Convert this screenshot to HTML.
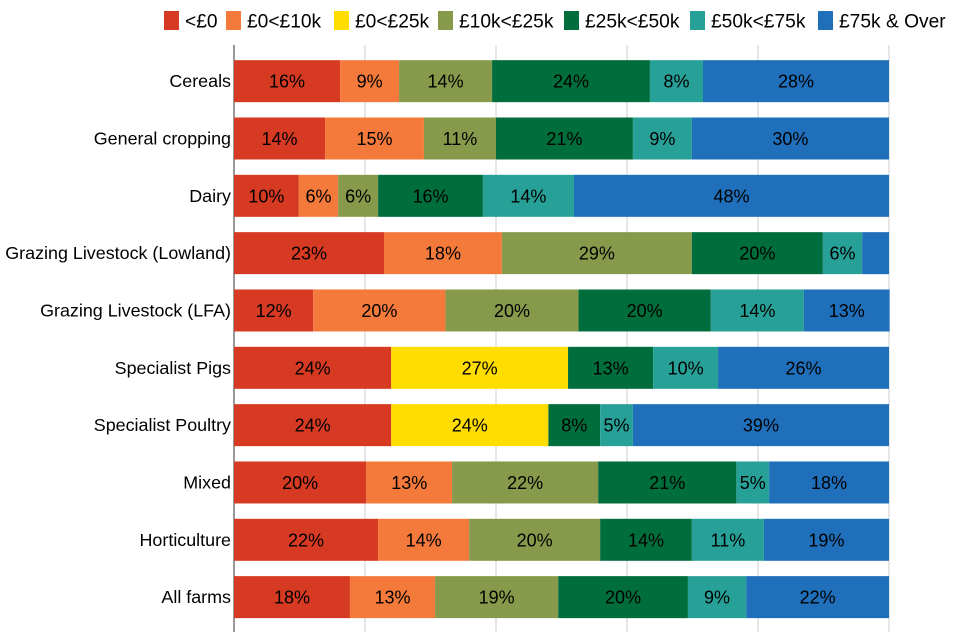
<!DOCTYPE html>
<html><head><meta charset="utf-8"><style>
body{margin:0;background:#fff;font-family:"Liberation Sans",sans-serif}
svg{display:block}
</style></head><body>
<svg id="chart" width="960" height="640"></svg>
<script>
const categories=["Cereals","General cropping","Dairy","Grazing Livestock (Lowland)","Grazing Livestock (LFA)","Specialist Pigs","Specialist Poultry","Mixed","Horticulture","All farms"];
const seriesNames=["<£0","£0<£10k","£0<£25k","£10k<£25k","£25k<£50k","£50k<£75k","£75k & Over"];
const colors=["#d63a22","#f47a3c","#ffdd00","#87994b","#006d3c","#27a197","#1f6fbb"];
const sLt0=[16.2,13.9,9.9,22.9,12.1,24.0,24.0,20.2,22.0,17.7];
const s0to10=[9.0,15.1,6.0,18.0,20.2,0,0,13.1,13.9,13.0];
const s0to25=[0,0,0,0,0,27.0,24.0,0,0,0];
const s10to25=[14.2,11.0,6.1,29.0,20.3,0,0,22.3,20.0,18.8];
const s25to50=[24.1,20.9,16.0,20.0,20.2,13.0,7.9,21.1,14.0,19.8];
const s50to75=[8.1,9.0,13.9,6.0,14.2,9.9,5.0,5.0,11.0,8.9];
const s75over=[28.4,30.1,48.1,4.1,13.1,26.1,39.1,18.3,19.1,21.8];
const series=[sLt0,s0to10,s0to25,s10to25,s25to50,s50to75,s75over];
const ticks=[0,20,40,60,80,100];

const NS="http://www.w3.org/2000/svg";
const svg=document.getElementById('chart');
const x0=234,x1=889,yTop=52.5,step=57.33,barH=42;
const xs=v=>x0+(x1-x0)*v/100;
const yc=i=>yTop+step*i+step/2;
function mk(t,a){const e=document.createElementNS(NS,t);for(const k in a)e.setAttribute(k,a[k]);svg.appendChild(e);return e;}
ticks.forEach(t=>{const g=mk('line',{x1:xs(t),x2:xs(t),y1:45,y2:632,stroke:t===0?'#333':'#ccc','stroke-width':1});

});
categories.forEach((c,i)=>{
  const lab=mk('text',{x:x0-3,y:yc(i)+6,'text-anchor':'end','font-size':17.9,fill:'#000'});
  lab.textContent=c;
  
  
  let acc=0;
  series.forEach((s,j)=>{
    const v=s[i]; if(!v){return;}
    const r=mk('rect',{x:xs(acc),y:yc(i)-barH/2,width:xs(acc+v)-xs(acc),height:barH,fill:colors[j]});
    
    
    if(v>=4.5){
      const t=mk('text',{x:(xs(acc)+xs(acc+v))/2,y:yc(i)+6.5,'text-anchor':'middle','font-size':18,fill:'#000'});
      t.textContent=Math.round(v)+'%';
      
      
    }
    acc+=v;
  });
});
const legX=[164,226,334,438,564,690,818];
seriesNames.forEach((n,j)=>{
  const r=mk('rect',{x:legX[j],y:11,width:15,height:19,fill:colors[j]});
  
  
  const t=mk('text',{x:legX[j]+21,y:27.5,'font-size':19.2,fill:'#000'});
  t.textContent=n;
  
  
});
</script>
</body></html>
